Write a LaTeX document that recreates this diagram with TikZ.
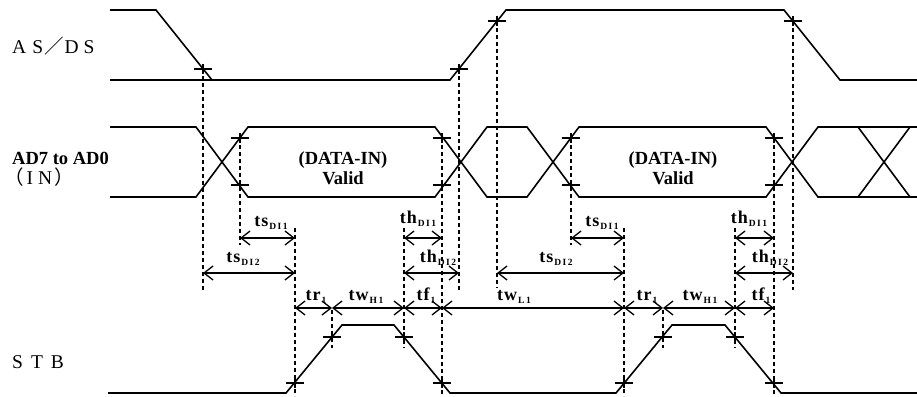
\documentclass[tikz,border=0pt]{standalone}
\usepackage{fontspec}
\setmainfont{Liberation Serif}
\newfontfamily\cjk{Noto Sans CJK JP}
\usetikzlibrary{arrows.meta}
\newcommand{\sbx}[1]{\hspace{1pt}\raisebox{-3pt}{\fontsize{9.5}{9.5}\selectfont\bfseries #1}}
\begin{document}
\begin{tikzpicture}[x=1pt,y=-1pt,
  sig/.style={line width=1.6pt, line join=miter},
  guide/.style={line width=1.4pt, dash pattern=on 4pt off 3pt},
  dim/.style={line width=1.3pt, {Straight Barb[length=9pt,width=14pt]}-{Straight Barb[length=9pt,width=14pt]}},
  mk/.style={line width=1.3pt},
  cm/.pic={\draw[mk] (-9,0) -- (9,0) (0,-5) -- (0,5);},
  tl/.style={font=\fontsize{18}{18}\selectfont\bfseries, anchor=base, inner sep=0pt},
  lab/.style={font=\fontsize{19.5}{22}\selectfont, anchor=base west, inner sep=0pt},
  dat/.style={font=\fontsize{18.5}{20}\selectfont\bfseries, anchor=base, inner sep=0pt},
]
\useasboundingbox (0,0) rectangle (917,396);

% ---------- signal labels ----------
\node[lab] (lasds) at (12,53) {A\hspace{6pt}S\hspace{1pt}{\cjk ／}\hspace{1pt}D\hspace{5pt}S};
\node[lab, font=\fontsize{18.5}{20}\selectfont\bfseries] (lad) at (12,164) {AD7 to AD0};
\node[lab] (lin) at (4,184) {{\cjk （}\hspace{3pt}I\hspace{5pt}N\hspace{2pt}{\cjk ）}};
\node[lab] (lstb) at (12,368) {S\hspace{8pt}T\hspace{8pt}B};

% ---------- AS/DS ----------
\draw[sig] (110,10) -- (156,10) -- (212,80);
\draw[sig] (110,80) -- (450,80) -- (506,10) -- (784,10) -- (840,80) -- (917,80);

% ---------- AD7 to AD0 ----------
\draw[sig] (110,127) -- (196,127) -- (248,197) -- (435,197) -- (487,127) -- (527,127)
  -- (579,197) -- (766,197) -- (818,127) -- (917,127);
\draw[sig] (110,197) -- (196,197) -- (248,127) -- (435,127) -- (487,197) -- (527,197)
  -- (579,127) -- (766,127) -- (818,197) -- (917,197);
\draw[sig] (858,127) -- (910,197) (858,197) -- (910,127);
\node[dat] (d1) at (343,164) {(DATA-IN)};
\node[dat] (v1) at (343,184) {Valid};
\node[dat] (d2) at (673,164) {(DATA-IN)};
\node[dat] (v2) at (673,184) {Valid};

% ---------- STB ----------
\draw[sig] (108,393) -- (286,393) -- (342,325) -- (394,325) -- (450,393) -- (616,393)
  -- (672,325) -- (725,325) -- (781,393) -- (917,393);

% ---------- guide lines ----------
\draw[guide] (203,69) -- (203,290);
\draw[guide] (240,138) -- (240,245);
\draw[guide] (295,228) -- (295,396);
\draw[guide] (332,310) -- (332,348);
\draw[guide] (404,228) -- (404,348);
\draw[guide] (442,138) -- (442,396);
\draw[guide] (459,69) -- (459,290);
\draw[guide] (497,21) -- (497,288);
\draw[guide] (571,138) -- (571,245);
\draw[guide] (624,228) -- (624,396);
\draw[guide] (663,310) -- (663,348);
\draw[guide] (735,228) -- (735,348);
\draw[guide] (774,138) -- (774,396);
\draw[guide] (793,21) -- (793,290);

% ---------- cross marks ----------
\foreach \p in {(203,69),(459,69),(497,21),(793,21),
  (240,138),(240,185),(442,138),(442,185),(571,138),(571,185),(774,138),(774,185),
  (295,383),(332,337),(404,337),(442,383),(624,383),(663,337),(735,337),(774,383)}
  \pic at \p {cm};

% ---------- dimension arrows ----------
\draw[dim] (240,238) -- (295,238);
\draw[dim] (203,273) -- (295,273);
\draw[dim] (404,238) -- (442,238);
\draw[dim] (404,273) -- (459,273);
\draw[dim] (571,238) -- (624,238);
\draw[dim] (497,273) -- (624,273);
\draw[dim] (735,238) -- (774,238);
\draw[dim] (735,273) -- (793,273);
\draw[dim] (295,308) -- (332,308);
\draw[dim] (332,308) -- (404,308);
\draw[dim] (404,308) -- (442,308);
\draw[dim] (442,308) -- (624,308);
\draw[dim] (624,308) -- (663,308);
\draw[dim] (663,308) -- (735,308);
\draw[dim] (735,308) -- (774,308);

% ---------- timing labels ----------
\node[tl] (a1) at (271,226) {t\hspace{1pt}s\sbx{D\,I\,1}};
\node[tl] (a2) at (243,262) {t\hspace{1pt}s\sbx{D\,I\,2}};
\node[tl] (a3) at (418,223) {t\hspace{1pt}h\sbx{D\,I\,1}};
\node[tl] (a4) at (438,262) {t\hspace{1pt}h\sbx{D\,I\,2}};
\node[tl] (a5) at (602,226) {t\hspace{1pt}s\sbx{D\,I\,1}};
\node[tl] (a6) at (556,262) {t\hspace{1pt}s\sbx{D\,I\,2}};
\node[tl] (a7) at (749,223) {t\hspace{1pt}h\sbx{D\,I\,1}};
\node[tl] (a8) at (770,262) {t\hspace{1pt}h\sbx{D\,I\,2}};
\node[tl] (b1) at (316,300) {t\hspace{1pt}r\sbx{1}};
\node[tl] (b2) at (366,300) {t\hspace{1pt}w\sbx{H\,1}};
\node[tl] (b3) at (426,300) {t\hspace{1pt}f\sbx{1}};
\node[tl] (b4) at (514,300) {t\hspace{1pt}w\sbx{L\,1}};
\node[tl] (b5) at (647,300) {t\hspace{1pt}r\sbx{1}};
\node[tl] (b6) at (700,300) {t\hspace{1pt}w\sbx{H\,1}};
\node[tl] (b7) at (761,300) {t\hspace{1pt}f\sbx{1}};
\end{tikzpicture}
\end{document}
